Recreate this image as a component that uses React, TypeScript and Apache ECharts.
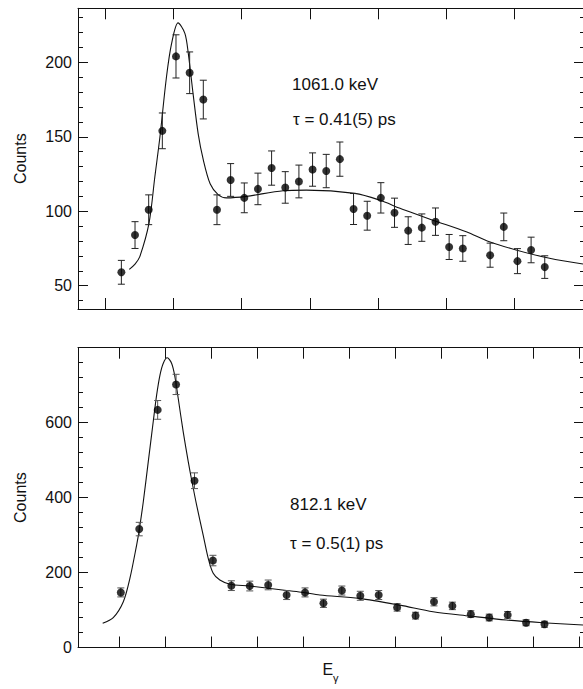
import React, { useEffect, useRef } from "react";
import * as echarts from "echarts";

// ---------- Data ----------
// Upper panel: 1061.0 keV line
const topX = [2.4, 4.4, 6.4, 8.4, 10.4, 12.4, 14.4, 16.4, 18.4, 20.4, 22.4, 24.4, 26.4, 28.4, 30.4, 32.4, 34.4, 36.4, 38.4, 40.4, 42.4, 44.4, 46.4, 48.4, 50.4, 52.4, 56.4, 58.4, 60.4, 62.4, 64.4];
const topCounts = [59, 84, 101, 154, 204, 193, 175, 101, 121, 109, 115, 129, 116, 120, 128, 127, 135, 101.5, 97, 109, 99, 87, 89, 93, 76, 75, 70.5, 89.5, 66.5, 74, 62.5];
const topErr = [8, 9, 10, 12, 14.5, 14, 13, 10, 11, 10, 10.6, 11.5, 10.6, 11, 11.2, 11.2, 11.5, 10.4, 9.7, 10.2, 9.8, 9.3, 9.2, 9.2, 8.4, 8.6, 8.1, 9.3, 8.4, 8.6, 7.6];
const topFitX = [3.56, 4.4, 5.1, 6.45, 7.3, 8.05, 9.0, 9.75, 10.7, 11.7, 12.2, 12.9, 13.65, 14.4, 15.4, 16.6, 17.8, 20.7, 26.1, 29.5, 36.6, 40.2, 43.2, 44.6, 48.0, 52.9, 56.3, 60.2, 65.1, 70];
const topFitY = [61, 64.5, 69.5, 92, 123, 150, 190, 212.5, 226.5, 219.5, 206, 179, 152, 134.5, 118.5, 111, 109, 110, 113.8, 114.2, 112, 107.5, 102, 99.7, 94, 86.2, 79.5, 74, 68.4, 64.6];
const topXTicks = [0, 10, 20, 30, 40, 50, 60, 70];
const topYTicks = [50, 100, 150, 200];
const topYMinor = [40, 60, 70, 80, 90, 110, 120, 130, 140, 160, 170, 180, 190, 210, 220, 230];

// Lower panel: 812.1 keV line
const botX = [0.2, 2.2, 4.2, 6.2, 8.2, 10.2, 12.2, 14.2, 16.2, 18.2, 20.2, 22.2, 24.2, 26.2, 28.2, 30.2, 32.2, 34.2, 36.2, 38.2, 40.2, 42.2, 44.2, 46.2];
const botCounts = [147, 316, 634, 702, 445, 232, 165, 164, 167, 140, 147, 118, 152, 138, 140, 107, 85, 122, 111, 89, 80, 87, 66, 62];
const botErr = [12, 18, 25, 27, 21, 14, 13, 13, 13, 12, 12, 11, 12, 12, 12, 10, 9, 11, 10, 9, 9, 9, 8, 8];
const botFitX = [-1.77, -0.62, 0.47, 1.19, 1.92, 2.17, 2.64, 3.18, 3.72, 4.09, 4.45, 4.8, 5.24, 5.72, 6.07, 6.43, 6.97, 7.52, 7.89, 8.43, 9.14, 9.69, 10.23, 10.95, 12.04, 14.2, 18.2, 20, 21.8, 26.1, 30.5, 34.1, 38.1, 42.05, 46, 50.4];
const botFitY = [64.6, 79.6, 122, 185, 274, 309, 389, 496, 603, 674, 727, 758, 773, 758, 723, 665, 576, 496, 447, 380, 300, 238, 198, 180, 169, 164, 152, 147, 140, 131, 113, 95.5, 84, 73.4, 66.2, 60];
const botXTicks = [0, 5, 10, 15, 20, 25, 30, 35, 40, 45, 50];
const botYTicks = [0, 200, 400, 600];
const botYMinor = [40, 80, 120, 160, 240, 280, 320, 360, 440, 480, 520, 560, 640, 680, 720, 760];

const topLabels = ["1061.0 keV", "τ = 0.41(5) ps"];
const botLabels = ["812.1 keV", "τ = 0.5(1) ps"];

const FONT = "Liberation Sans, Arial, Helvetica, sans-serif";
const INK = "#111";

function errRender(color: string) {
  return (params: any, api: any) => {
    const x = api.value(0);
    const lo = api.value(1);
    const hi = api.value(2);
    const p1 = api.coord([x, hi]);
    const p2 = api.coord([x, lo]);
    const w = 3.5;
    const st = { stroke: color, lineWidth: 1 };
    return {
      type: "group",
      children: [
        { type: "line", shape: { x1: p1[0], y1: p1[1], x2: p2[0], y2: p2[1] }, style: st },
        { type: "line", shape: { x1: p1[0] - w, y1: p1[1], x2: p1[0] + w, y2: p1[1] }, style: st },
        { type: "line", shape: { x1: p2[0] - w, y1: p2[1], x2: p2[0] + w, y2: p2[1] }, style: st },
      ],
    };
  };
}

export default function App() {
  const ref = useRef<HTMLDivElement>(null);
  useEffect(() => {
    if (!ref.current) return;
    const chart = echarts.init(ref.current, null, { renderer: "svg" });

    const gridTop = { left: 78, top: 8.3, width: 505.5, height: 300.7 };
    const gridBot = { left: 78, top: 347.7, width: 505.5, height: 299.8 };

    const xBase = (gridIndex: number, min: number, max: number, ticks: number[], position: string, extra: any = {}) => ({
      type: "value",
      gridIndex,
      min,
      max,
      position,
      axisLine: { show: true, onZero: false, lineStyle: { color: INK, width: 1 } },
      axisTick: { show: true, inside: true, length: 11, customValues: ticks, lineStyle: { color: INK, width: 1 } },
      axisLabel: { show: false },
      splitLine: { show: false },
      ...extra,
    });

    const yBase = (gridIndex: number, min: number, max: number, ticks: number[], position: string, len: number, showLine: boolean, labels: boolean, extra: any = {}) => ({
      type: "value",
      gridIndex,
      min,
      max,
      position,
      axisLine: { show: showLine, onZero: false, lineStyle: { color: INK, width: 1 } },
      axisTick: { show: true, inside: true, length: len, customValues: ticks, lineStyle: { color: INK, width: 1 } },
      axisLabel: labels
        ? { show: true, customValues: ticks, fontFamily: FONT, fontSize: 16, color: INK, margin: 6 }
        : { show: false },
      splitLine: { show: false },
      ...extra,
    });

    const yName = {
      name: "Counts",
      nameLocation: "middle",
      nameGap: 50,
      nameTextStyle: { fontFamily: FONT, fontSize: 16, color: INK },
    };

    const topMin = 34.35, topMax = 236.3;

    const option: any = {
      animation: false,
      backgroundColor: "#fff",
      grid: [gridTop, gridBot],
      xAxis: [
        xBase(0, -3.95, 70, topXTicks, "bottom"),
        xBase(0, -3.95, 70, topXTicks, "top"),
        xBase(1, -4.45, 50.38, botXTicks, "bottom", {
          name: "{e|E}{g|γ}",
          nameLocation: "middle",
          nameGap: 14,
          nameTextStyle: {
            rich: {
              e: { fontFamily: FONT, fontSize: 16, color: INK, lineHeight: 22, verticalAlign: "top" },
              g: { fontFamily: FONT, fontSize: 11, color: INK, lineHeight: 22, verticalAlign: "bottom", padding: [0, 0, 0, 0] },
            },
          },
        }),
        xBase(1, -4.45, 50.38, botXTicks, "top"),
      ],
      yAxis: [
        yBase(0, topMin, topMax, topYTicks, "left", 10, true, true, yName),
        yBase(0, topMin, topMax, topYMinor, "left", 5, false, false),
        yBase(0, topMin, topMax, topYTicks, "right", 9, false, false),
        yBase(0, topMin, topMax, topYMinor, "right", 3, false, false),
        yBase(1, 0, 800, botYTicks, "left", 10, true, true, yName),
        yBase(1, 0, 800, botYMinor, "left", 5, false, false),
        yBase(1, 0, 800, botYTicks, "right", 9, false, false),
        yBase(1, 0, 800, botYMinor, "right", 3, false, false),
      ],
      series: [
        {
          type: "line",
          xAxisIndex: 0,
          yAxisIndex: 0,
          data: topFitX.map((x, i) => [x, topFitY[i]]),
          smooth: 0.3,
          showSymbol: false,
          lineStyle: { color: INK, width: 1.1 },
          z: 2,
        },
        {
          type: "custom",
          xAxisIndex: 0,
          yAxisIndex: 0,
          data: topX.map((x, i) => [x, topCounts[i] - topErr[i], topCounts[i] + topErr[i]]),
          encode: { x: 0, y: [1, 2] },
          renderItem: errRender("#222"),
          z: 3,
        },
        {
          type: "scatter",
          xAxisIndex: 0,
          yAxisIndex: 0,
          data: topX.map((x, i) => [x, topCounts[i]]),
          symbolSize: 8,
          itemStyle: { color: "#000" },
          z: 4,
        },
        {
          type: "line",
          xAxisIndex: 2,
          yAxisIndex: 4,
          data: botFitX.map((x, i) => [x, botFitY[i]]),
          smooth: 0.3,
          showSymbol: false,
          lineStyle: { color: INK, width: 1.1 },
          z: 2,
        },
        {
          type: "custom",
          xAxisIndex: 2,
          yAxisIndex: 4,
          data: botX.map((x, i) => [x, botCounts[i] - botErr[i], botCounts[i] + botErr[i]]),
          encode: { x: 0, y: [1, 2] },
          renderItem: errRender("#555"),
          z: 3,
        },
        {
          type: "scatter",
          xAxisIndex: 2,
          yAxisIndex: 4,
          data: botX.map((x, i) => [x, botCounts[i]]),
          symbolSize: 8,
          itemStyle: { color: "#000" },
          z: 4,
        },
      ],
      graphic: [
        { type: "text", left: 292, top: 76, style: { text: topLabels[0], font: `17px ${FONT}`, fill: INK } },
        { type: "text", left: 293, top: 111, style: { text: topLabels[1], font: `17px ${FONT}`, fill: INK } },
        { type: "text", left: 290, top: 496, style: { text: botLabels[0], font: `17px ${FONT}`, fill: INK } },
        { type: "text", left: 290, top: 535, style: { text: botLabels[1], font: `17px ${FONT}`, fill: INK } },
      ],
    };

    chart.setOption(option);
    return () => chart.dispose();
  }, []);

  return (
    <div
      ref={ref}
      style={{ position: "absolute", left: 0, top: 0, width: 583, height: 689, background: "#fff" }}
    />
  );
}
